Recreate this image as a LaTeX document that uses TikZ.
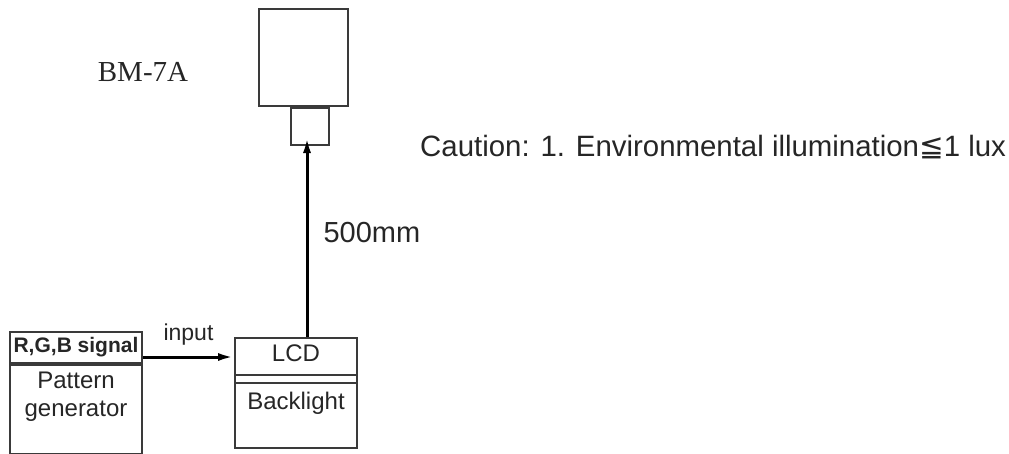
\documentclass[tikz,border=0pt]{standalone}
\usepackage{fontspec}
\setmainfont{Liberation Sans}
\newfontfamily\slabfont{Liberation Serif}
\newfontfamily\symfont{DejaVu Sans}
\usepackage{tikz}
\usepackage{xcolor}
\usetikzlibrary{calc, arrows.meta, positioning}

\definecolor{boxgray}{HTML}{3A3A3A}

\begin{document}
\begin{tikzpicture}[x=1pt, y=-1pt, >={Latex[length=16pt,width=8pt]},
  box/.style={draw=boxgray, line width=2pt, inner sep=0pt},
  lbl/.style={inner sep=0pt, text=black!85},
  wire/.style={line width=3pt, black, ->}]
  \useasboundingbox (0,0) rectangle (1009,453);
  % camera head
  \node[box, minimum width=89pt, minimum height=97pt] (body) at (303.5,57.5) {};
  \node[box, minimum width=38pt, minimum height=37pt, below=0pt of body.south, xshift=6.5pt] (lens) {};
  \node[lbl, font=\slabfont\fontsize{29}{32}\selectfont] (name) at (143,72) {BM-7A};
  % pattern generator
  \node[box, minimum width=132pt, minimum height=31pt] (sig) at (76,347.5) {};
  \node[box, minimum width=132pt, minimum height=89pt, below=0pt of sig.south] (pgen) {};
  \node[lbl, font=\bfseries\fontsize{21}{24}\selectfont] at (sig) {R,G,B signal};
  \node[lbl, font=\fontsize{24}{28}\selectfont, align=center, below=8pt of pgen.north] (pgtext) {Pattern\\generator};
  % LCD module
  \node[box, minimum width=122pt, minimum height=110pt] (lcd) at (296,393) {};
  \draw[boxgray, line width=2pt] (lcd.west |- 0,375) -- (lcd.east |- 0,375);
  \draw[boxgray, line width=2pt] (lcd.west |- 0,383) -- (lcd.east |- 0,383);
  \node[lbl, font=\fontsize{24}{28}\selectfont] (lcdtext) at (296,353) {LCD};
  \node[lbl, font=\fontsize{24}{28}\selectfont] (bltext) at (296,403) {Backlight};
  % signal into the panel
  \coordinate (sigy) at (0,357);
  \draw[wire] (sig.east |- sigy) -- (lcd.west |- sigy)
    node[midway, above=10pt, lbl, font=\fontsize{23}{26}\selectfont] (inlbl) {input};
  % measuring distance
  \coordinate (tip) at (307,137);
  \draw[wire] (tip |- lcd.north) -- (tip)
    node[pos=0.52, right=15pt, lbl, font=\fontsize{29}{32}\selectfont] (dist) {500mm};
  % note
  \node[lbl, font=\fontsize{29.4}{32}\selectfont, anchor=west] (note) at (420,147)
    {Caution: 1. Environmental illumination{\symfont ≦}1 lux};
\end{tikzpicture}
\end{document}
